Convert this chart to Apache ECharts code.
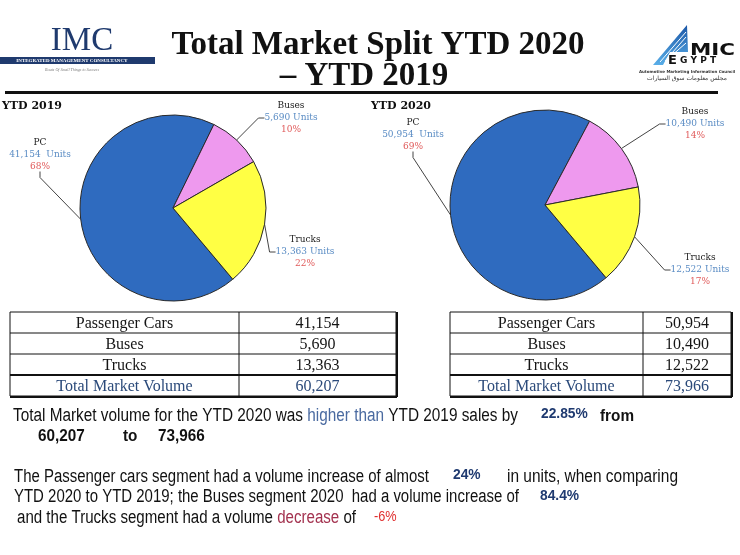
<!DOCTYPE html>
<html>
<head>
<meta charset="utf-8">
<script src="https://cdn.jsdelivr.net/npm/echarts@6/dist/echarts.min.js"></script>
<style>
  html, body { margin: 0; padding: 0; background: #fff; }
  #main { width: 740px; height: 555px; }
</style>
</head>
<body>
<div id="main"></div>
<script>
// data
const segments = ['PC', 'Buses', 'Trucks'];
const rowNames = ['Passenger Cars', 'Buses', 'Trucks'];
const units2019 = [41154, 5690, 13363];
const units2020 = [50954, 10490, 12522];
const sliceColors = ['#2f6bbf', '#ee99ee', '#ffff44'];

const fmt = v => v.toLocaleString('en-US');
const sum = arr => arr.reduce((a, b) => a + b, 0);
const total2019 = sum(units2019);
const total2020 = sum(units2020);
const pctChange = (a, b) => (b - a) / a * 100;

const serif = '"Liberation Serif", "DejaVu Serif", serif';
const sans = '"Liberation Sans", Arial, sans-serif';

// where the pie labels sit (PC, Buses, Trucks)
const labelSpots = [
  [[40, 155], [291, 118], [305, 252]],
  [[413, 135], [695, 124], [700, 270]]
];

const measureCtx = document.createElement('canvas').getContext('2d');
function textWidth(text, font) {
  measureCtx.font = font;
  return measureCtx.measureText(text).width;
}

function pieSeries(idx, values, center, radius) {
  return {
    type: 'pie',
    center: center,
    radius: radius,
    startAngle: -50,
    percentPrecision: 0,
    animation: false,
    data: segments.map((s, i) => ({ name: s, value: values[i], itemStyle: { color: sliceColors[i] } })),
    itemStyle: { borderColor: '#2a2a2a', borderWidth: 1 },
    label: {
      show: true,
      overflow: 'none',
      formatter: p => '{n|' + p.name + '}\n{u|' + fmt(p.value) + (p.name === 'PC' ? '  ' : ' ') + 'Units}\n{p|' + p.percent + '%}',
      rich: {
        n: { fontFamily: 'DejaVu Serif', fontSize: 9, color: '#222', align: 'center', lineHeight: 12 },
        u: { fontFamily: 'DejaVu Serif', fontSize: 9, color: '#5a8cc4', align: 'center', lineHeight: 12 },
        p: { fontFamily: 'DejaVu Serif', fontSize: 9, color: '#e05a5a', align: 'center', lineHeight: 12 }
      }
    },
    labelLayout: p => ({
      x: labelSpots[idx][p.dataIndex][0],
      y: labelSpots[idx][p.dataIndex][1],
      align: 'center',
      verticalAlign: 'middle'
    }),
    labelLine: { show: true, length: 14, length2: 6, lineStyle: { color: '#444', width: 1 } },
    emphasis: { disabled: true }
  };
}

function tableGraphics(x0, x1, xDiv, names, values, total) {
  const y0 = 312, rh = 21;
  const els = [];
  const rows = names.map((n, i) => [n, fmt(values[i])]).concat([['Total Market Volume', fmt(total)]]);
  const yEnd = y0 + rh * rows.length;
  els.push({ type: 'rect', shape: { x: x0, y: y0, width: x1 - x0, height: yEnd - y0 }, style: { fill: 'none', stroke: '#111', lineWidth: 1 } });
  for (let i = 1; i < rows.length; i++) {
    const y = y0 + rh * i;
    els.push({ type: 'line', shape: { x1: x0, y1: y, x2: x1, y2: y }, style: { stroke: '#111', lineWidth: i === rows.length - 1 ? 2 : 1 } });
  }
  els.push({ type: 'line', shape: { x1: xDiv, y1: y0, x2: xDiv, y2: yEnd }, style: { stroke: '#111', lineWidth: 1 } });
  els.push({ type: 'line', shape: { x1: x0, y1: yEnd + 1, x2: x1 + 1, y2: yEnd + 1 }, style: { stroke: '#111', lineWidth: 2 } });
  els.push({ type: 'line', shape: { x1: x1 + 1, y1: y0, x2: x1 + 1, y2: yEnd + 1 }, style: { stroke: '#111', lineWidth: 2 } });
  rows.forEach((r, i) => {
    const isTotal = i === rows.length - 1;
    const cy = y0 + rh * i + rh / 2 + 1;
    const col = isTotal ? '#2b4a7a' : '#151515';
    els.push({ type: 'text', x: (x0 + xDiv) / 2, y: cy, style: { text: r[0], align: 'center', verticalAlign: 'middle', font: '16px ' + serif, fill: col } });
    els.push({ type: 'text', x: (xDiv + x1) / 2, y: cy, style: { text: r[1], align: 'center', verticalAlign: 'middle', font: '16px ' + serif, fill: col } });
  });
  return els;
}

function txt(x, y, text, font, fill, align) {
  return { type: 'text', x: x, y: y, style: { text: text, font: font, fill: fill || '#111', align: align || 'left', verticalAlign: 'middle' } };
}

// text squeezed to run from xa to xb (a narrow face like the original)
function fitText(xa, xb, y, text, font, fill, rich) {
  const plain = text.replace(/\{\w+\|([^}]*)\}/g, '$1');
  const el = txt(xa, y, text, font, fill);
  el.scaleX = (xb - xa) / textWidth(plain, font);
  if (rich) el.style.rich = rich;
  return el;
}

// fixed squeeze
function narrowText(x, y, text, font, fill, sx) {
  const el = txt(x, y, text, font, fill);
  el.scaleX = sx;
  return el;
}

const chart = echarts.init(document.getElementById('main'), null, { renderer: 'canvas' });

const pf = '18px ' + sans;
const numFont = 'bold 17px ' + sans;
const graphics = [
  // header
  txt(378, 45, 'Total Market Split YTD 2020', 'bold 33px ' + serif, '#111', 'center'),
  txt(364, 76, '\u2013 YTD 2019', 'bold 33px ' + serif, '#111', 'center'),
  { type: 'rect', shape: { x: 5, y: 91, width: 713, height: 3 }, style: { fill: '#111' } },
  // IMC logo
  txt(82, 41, 'IMC', '33px ' + serif, '#1f3a6e', 'center'),
  { type: 'rect', shape: { x: 0, y: 57, width: 155, height: 7 }, style: { fill: '#1f3a6e' } },
  txt(72, 61, 'INTEGRATED MANAGEMENT CONSULTANCY', 'bold 5px ' + serif, '#fff', 'center'),
  txt(72, 70, 'Route Of Small Things to Success', 'italic 4px ' + serif, '#777', 'center'),
  // AMIC logo
  { type: 'polygon', shape: { points: [[653, 65], [687, 25], [688, 52], [670, 52], [663, 65]] },
    style: { fill: new echarts.graphic.LinearGradient(0, 0, 0, 1, [{ offset: 0, color: '#1a56a6' }, { offset: 1, color: '#59aee8' }]) } },
  { type: 'line', shape: { x1: 660, y1: 62, x2: 686, y2: 32 }, style: { stroke: '#fff', lineWidth: 1 } },
  { type: 'line', shape: { x1: 665, y1: 61, x2: 686, y2: 37 }, style: { stroke: '#fff', lineWidth: 1 } },
  { type: 'line', shape: { x1: 670, y1: 57, x2: 686, y2: 43 }, style: { stroke: '#fff', lineWidth: 1 } },
  fitText(690, 735, 51, 'MIC', 'bold 15px "DejaVu Sans", sans-serif', '#111'),
  { type: 'text', x: 668, y: 61, style: { text: '{e|E}{g| G Y P T}', verticalAlign: 'middle',
    rich: { e: { font: 'bold 13px "DejaVu Sans", sans-serif', fill: '#111' }, g: { font: 'bold 9px "DejaVu Sans", sans-serif', fill: '#111' } } } },
  txt(687, 72, 'Automotive Marketing Information Council', 'bold 4px "DejaVu Sans", sans-serif', '#333', 'center'),
  txt(687, 78, 'مجلس معلومات سوق السيارات', '6px "DejaVu Sans", sans-serif', '#333', 'center'),
  // pie titles
  txt(2, 106, 'YTD 2019', 'bold 11px "DejaVu Serif", serif', '#111', 'left'),
  txt(371, 106, 'YTD 2020', 'bold 11px "DejaVu Serif", serif', '#111', 'left')
]
  .concat(tableGraphics(10, 396, 239, rowNames, units2019, total2019))
  .concat(tableGraphics(450, 731, 643, rowNames, units2020, total2020))
  .concat([
    // paragraph 1
    fitText(13, 518, 416, 'Total Market volume for the YTD 2020 was {b|higher than} YTD 2019 sales by', pf, '#111',
      { b: { font: pf, fill: '#4a6aa0' } }),
    narrowText(541, 414, pctChange(total2019, total2020).toFixed(2) + '%', 'bold 15px ' + sans, '#1f3a70', 0.92),
    narrowText(600, 416, 'from', 'bold 17px ' + sans, '#111', 0.9),
    narrowText(38, 436, fmt(total2019), numFont, '#111', 0.9),
    narrowText(123, 436, 'to', numFont, '#111', 0.9),
    narrowText(158, 436, fmt(total2020), numFont, '#111', 0.9),
    // paragraph 2
    fitText(14, 429, 477, 'The Passenger cars segment had a volume increase of almost', pf, '#111'),
    narrowText(453, 475, Math.round(pctChange(units2019[0], units2020[0])) + '%', 'bold 15px ' + sans, '#1f3a70', 0.92),
    fitText(507, 678, 477, 'in units, when comparing', pf, '#111'),
    fitText(14, 519, 497, 'YTD 2020 to YTD 2019; the Buses segment 2020  had a volume increase of', pf, '#111'),
    narrowText(540, 496, pctChange(units2019[1], units2020[1]).toFixed(1) + '%', 'bold 15px ' + sans, '#1f3a70', 0.92),
    fitText(17, 356, 518, 'and the Trucks segment had a volume {d|decrease} of', pf, '#111',
      { d: { font: pf, fill: '#a3324f' } }),
    narrowText(374, 517, Math.round(pctChange(units2019[2], units2020[2])) + '%', '15px ' + sans, '#e03030', 0.85)
  ]);

chart.setOption({
  backgroundColor: '#fff',
  animation: false,
  series: [
    pieSeries(0, units2019, [173, 208], 93),
    pieSeries(1, units2020, [545, 205], 95)
  ],
  graphic: graphics
});
</script>
</body>
</html>
